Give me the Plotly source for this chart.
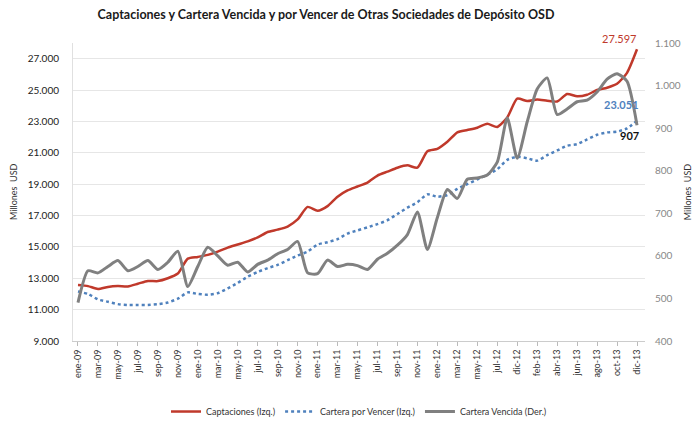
import plotly.graph_objects as go

meses = [
    "ene-09", "feb-09", "mar-09", "abr-09", "may-09", "jun-09", "jul-09", "ago-09", "sep-09", "oct-09", "nov-09", "dic-09",
    "ene-10", "feb-10", "mar-10", "abr-10", "may-10", "jun-10", "jul-10", "ago-10", "sep-10", "oct-10", "nov-10", "dic-10",
    "ene-11", "feb-11", "mar-11", "abr-11", "may-11", "jun-11", "jul-11", "ago-11", "sep-11", "oct-11", "nov-11", "dic-11",
    "ene-12", "feb-12", "mar-12", "abr-12", "may-12", "jun-12", "jul-12", "oct-12", "dic-12",
    "ene-13", "feb-13", "mar-13", "abr-13", "may-13", "jun-13", "jul-13", "ago-13", "sep-13", "oct-13", "nov-13", "dic-13",
]

captaciones = [
    12570, 12500, 12320, 12450, 12500, 12480, 12650, 12830, 12820, 13000, 13300, 14250,
    14360, 14490, 14700, 14950, 15150, 15350, 15600, 15950, 16100, 16300, 16750, 17550,
    17300, 17600, 18200, 18600, 18850, 19100, 19550, 19800, 20050, 20200, 20050, 21100,
    21250, 21700, 22300, 22450, 22600, 22850, 22650, 23250, 24450,
    24300, 24400, 24320, 24270, 24750, 24600, 24700, 25000, 25150, 25400, 26100, 27597,
]

cartera_por_vencer = [
    12150, 12000, 11650, 11500, 11350, 11300, 11300, 11300, 11350, 11450, 11700, 12100,
    12000, 11950, 12050, 12350, 12700, 13100, 13400, 13650, 13850, 14150, 14450, 14700,
    15150, 15300, 15500, 15850, 16050, 16250, 16450, 16700, 17100, 17500, 17850, 18350,
    18200, 18300, 18700, 19000, 19300, 19600, 19950, 20550, 20750,
    20650, 20500, 20850, 21150, 21450, 21550, 21850, 22150, 22300, 22350, 22550, 23051,
]

cartera_vencida = [
    490, 565, 560, 575, 589, 565, 575, 589, 568, 585, 611, 528,
    575, 620, 600, 578, 585, 562, 580, 590, 605, 615, 634, 560,
    558, 590, 575, 580, 577, 568, 592, 606, 625, 650, 703, 615,
    690, 756, 735, 780, 783, 790, 820, 924, 829,
    915, 992, 1018, 932, 945, 962, 966, 985, 1015, 1028, 1010, 907,
]

etiquetas_x = meses[0::2]

fuente = "Lato"

fig = go.Figure()

fig.add_trace(go.Scatter(
    x=meses, y=captaciones, name="Captaciones (Izq.)",
    mode="lines", line=dict(color="#C0392B", width=2.5, shape="spline", smoothing=0.6),
))
fig.add_trace(go.Scatter(
    x=meses, y=cartera_por_vencer, name="Cartera por Vencer (Izq.)",
    mode="lines", line=dict(color="#4F81BD", width=2.5, dash="dot", shape="spline", smoothing=0.6),
))
fig.add_trace(go.Scatter(
    x=meses, y=cartera_vencida, name="Cartera Vencida (Der.)", yaxis="y2",
    mode="lines", line=dict(color="#808080", width=3, shape="spline", smoothing=0.6),
))

# etiquetas del último dato
fig.add_annotation(x=meses[-1], y=captaciones[-1], text="27.597", showarrow=False,
                   xanchor="right", yanchor="bottom", xshift=2, yshift=2,
                   font=dict(color="#C0392B", size=11, family=fuente))
fig.add_annotation(x=meses[-1], y=cartera_por_vencer[-1], text="<b>23.051</b>", showarrow=False,
                   xanchor="right", yanchor="bottom", xshift=4, yshift=8,
                   font=dict(color="#4F81BD", size=11, family=fuente))
fig.add_annotation(x=meses[-1], y=cartera_vencida[-1], yref="y2", text="<b>907</b>", showarrow=False,
                   xanchor="right", yanchor="top", xshift=4, yshift=-2,
                   font=dict(color="#111111", size=11, family=fuente))

# título del eje izquierdo
fig.add_annotation(xref="paper", yref="paper", x=(13 - 73) / 572, y=0.5,
                   text="Millones  USD", textangle=-90, showarrow=False,
                   xanchor="center", yanchor="middle",
                   font=dict(size=9, color="#333333", family=fuente))

fig.update_layout(
    width=697, height=423,
    margin=dict(l=73, r=52, t=43, b=82, autoexpand=False),
    paper_bgcolor="white", plot_bgcolor="white",
    separators=",.",
    font=dict(family=fuente, size=9, color="#333333"),
    title=dict(text="<b>Captaciones y Cartera Vencida y por Vencer de Otras Sociedades de Depósito OSD</b>",
               xref="container", x=326 / 697, xanchor="center",
               yref="container", y=1 - 15 / 423, yanchor="middle",
               font=dict(size=12.5, color="#1a1a1a", family=fuente)),
    showlegend=True,
    legend=dict(orientation="h", x=0.5, xanchor="center", y=-0.188, yanchor="top",
                font=dict(size=9, color="#333333"), itemwidth=30, tracegroupgap=0),
    xaxis=dict(
        type="category", range=[-0.5, 56.8],
        tickmode="array", tickvals=etiquetas_x, ticktext=etiquetas_x,
        tickangle=-90, tickfont=dict(size=9, color="#333333"),
        ticks="outside", ticklen=4, tickcolor="#BBBBBB",
        showline=True, linecolor="#CCCCCC", showgrid=False,
    ),
    yaxis=dict(
        range=[9000, 28000], tickvals=list(range(9000, 28000, 2000)),
        tickformat=",d", separatethousands=True,
        tickfont=dict(size=10, color="#222222", family=fuente),
        ticklabelstandoff=11,
        showgrid=True, gridcolor="#E6E6E6", gridwidth=1,
        showline=True, linecolor="#E0E0E0", zeroline=False,
    ),
    yaxis2=dict(
        overlaying="y", side="right", range=[400, 1100],
        tickvals=list(range(400, 1101, 100)),
        tickformat=",d", separatethousands=True,
        tickfont=dict(size=10, color="#888888", family=fuente),
        ticklabelstandoff=9,
        showgrid=False, zeroline=False, showline=False,
        title=dict(text="Millones  USD", font=dict(size=9, color="#333333", family=fuente), standoff=4),
    ),
)

# la página trae el margen de 8px del navegador; se quita para que el gráfico llene la ventana
fig.write_html("out.html", config={"displayModeBar": False},
               post_script="document.body.style.margin = '0';")
